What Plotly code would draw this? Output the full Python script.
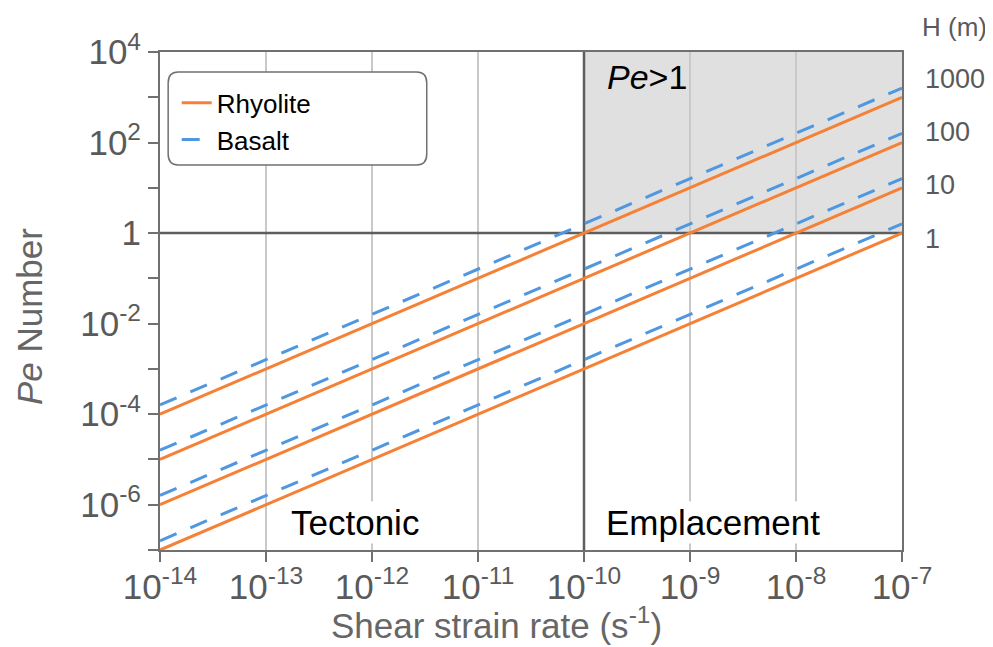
import plotly.graph_objects as go

# ---- data ----
strain_rate = [1e-14, 1e-7]                     # s^-1, ends of each line
H_values = [1000, 100, 10, 1]                    # m
rhyolite_pe = [[1e-4, 1e3], [1e-5, 1e2], [1e-6, 1e1], [1e-7, 1e0]]
basalt_pe = [[1.6e-4, 1.6e3], [1.6e-5, 1.6e2], [1.6e-6, 1.6e1], [1.6e-7, 1.6e0]]

x_tickvals = [1e-14, 1e-13, 1e-12, 1e-11, 1e-10, 1e-9, 1e-8, 1e-7]
x_ticktext = ["10<sup>-14</sup>", "10<sup>-13</sup>", "10<sup>-12</sup>", "10<sup>-11</sup>",
              "10<sup>-10</sup>", "10<sup>-9</sup>", "10<sup>-8</sup>", "10<sup>-7</sup>"]
y_tickvals = [1e-6, 1e-4, 1e-2, 1e0, 1e2, 1e4]
y_ticktext = ["10<sup>-6</sup>", "10<sup>-4</sup>", "10<sup>-2</sup>", "1",
              "10<sup>2</sup>", "10<sup>4</sup>"]
y_minor_tickvals = [1e-7, 1e-5, 1e-3, 1e-1, 1e1, 1e3]
h_tickvals = [1, 10, 100, 1000]
h_ticktext = ["1", "10", "100", "1000"]

pe_threshold = 1.0
regime_boundary = 1e-10
pe_top = 1e4

ORANGE = "#f58137"
BLUE = "#4f97e0"
AXIS = "#707070"
DARK = "#5e5e5e"
GRID = "#c9c9c9"
TICKFONT = "#5a5a5a"
TITLEFONT = "#666666"
FONT = "Liberation Sans, Arial, sans-serif"

fig = go.Figure()

# dark reference lines Pe = 1 and strain rate = 1e-10 (drawn first, under the data)
fig.add_trace(go.Scatter(x=strain_rate, y=[pe_threshold, pe_threshold], mode="lines",
                         line=dict(color=DARK, width=2.5), showlegend=False, hoverinfo="skip"))
fig.add_trace(go.Scatter(x=[regime_boundary, regime_boundary], y=[1e-7, pe_top], mode="lines",
                         line=dict(color=DARK, width=2.5), showlegend=False, hoverinfo="skip"))

for i, h in enumerate(H_values):
    fig.add_trace(go.Scatter(
        x=strain_rate, y=rhyolite_pe[i], mode="lines",
        line=dict(color=ORANGE, width=3),
        name="Rhyolite", legendgroup="rhy", showlegend=(i == 0),
    ))
for i, h in enumerate(H_values):
    fig.add_trace(go.Scatter(
        x=strain_rate, y=basalt_pe[i], mode="lines",
        line=dict(color=BLUE, width=3, dash="18px,15px"),
        name="Basalt", legendgroup="bas", showlegend=(i == 0),
    ))

# empty trace so that the right-hand H axis is drawn
fig.add_trace(go.Scatter(x=[], y=[], yaxis="y2", showlegend=False, hoverinfo="skip"))

# shaded Pe>1 emplacement region
fig.add_shape(type="rect", xref="x", yref="y",
              x0=regime_boundary, x1=strain_rate[1], y0=pe_threshold, y1=pe_top,
              fillcolor="#e0e0e0", line=dict(width=0), layer="below")

# rounded legend frame
fig.add_shape(type="path", xref="paper", yref="paper",
              path="M 0.0245,0.773 L 0.346,0.773 Q 0.3595,0.773 0.3595,0.795 L 0.3595,0.938 "
                   "Q 0.3595,0.96 0.346,0.96 L 0.0245,0.96 Q 0.011,0.96 0.011,0.938 "
                   "L 0.011,0.795 Q 0.011,0.773 0.0245,0.773 Z",
              fillcolor="white", line=dict(color=AXIS, width=1.5), layer="above")

fig.add_annotation(x=-9.8, y=3.45, xref="x", yref="y", text="<i>Pe</i>>1",
                   showarrow=False, xanchor="left", yanchor="middle",
                   font=dict(size=34, color="black", family=FONT))
fig.add_annotation(x=-12.16, y=-6.39, xref="x", yref="y", text="Tectonic",
                   showarrow=False, xanchor="center", yanchor="middle", bgcolor="white",
                   font=dict(size=35, color="black", family=FONT))
fig.add_annotation(x=-8.78, y=-6.39, xref="x", yref="y", text="Emplacement",
                   showarrow=False, xanchor="center", yanchor="middle", bgcolor="white",
                   font=dict(size=35, color="black", family=FONT))
fig.add_annotation(x=1.0714, y=1.05, xref="paper", yref="paper", text="H (m)",
                   showarrow=False, xanchor="center", yanchor="middle",
                   font=dict(size=26, color=TICKFONT, family=FONT))

# axis titles (centred on the figure as in the reference)
fig.add_annotation(x=0.4535, y=-0.1466, xref="paper", yref="paper",
                   text="Shear strain rate (s<sup>-1</sup>)",
                   showarrow=False, xanchor="center", yanchor="middle",
                   font=dict(size=35, color=TITLEFONT, family=FONT))
fig.add_annotation(x=-0.175, y=0.468, xref="paper", yref="paper",
                   text="<i>Pe</i> Number", textangle=-90,
                   showarrow=False, xanchor="center", yanchor="middle",
                   font=dict(size=35, color=TITLEFONT, family=FONT))

# the page adds an 8px body margin, so the figure is drawn 8px smaller/shifted
fig.update_layout(
    width=985, height=639,
    margin=dict(l=152, r=91, t=44, b=97, autoexpand=False),
    paper_bgcolor="white", plot_bgcolor="white",
    font=dict(family=FONT),
    showlegend=True,
    legend=dict(x=0.0225, y=0.945, xanchor="left", yanchor="top",
                bgcolor="rgba(0,0,0,0)", borderwidth=0,
                font=dict(size=26, color="black", family=FONT),
                tracegroupgap=0),
    xaxis=dict(type="log", range=[-14, -7], tickvals=x_tickvals, ticktext=x_ticktext,
               ticks="outside", ticklen=10, tickwidth=2, tickcolor=AXIS,
               showline=True, linecolor=AXIS, linewidth=2, mirror=True,
               showgrid=True, gridcolor=GRID, gridwidth=1.5, zeroline=False,
               automargin=False, ticklabelstandoff=-5,
               tickfont=dict(size=35, color=TICKFONT, family=FONT)),
    yaxis=dict(type="log", range=[-7, 4], tickvals=y_tickvals, ticktext=y_ticktext,
               ticks="outside", ticklen=10, tickwidth=2, tickcolor=AXIS,
               minor=dict(tickvals=y_minor_tickvals, ticks="outside", ticklen=10,
                          tickwidth=2, tickcolor=AXIS, showgrid=False),
               showline=True, linecolor=AXIS, linewidth=2, mirror=True,
               showgrid=False, zeroline=False, automargin=False,
               tickfont=dict(size=35, color=TICKFONT, family=FONT)),
    yaxis2=dict(type="log", range=[-5.85, 3.49], overlaying="y", side="right",
                tickvals=h_tickvals, ticktext=h_ticktext, showgrid=False, zeroline=False,
                showline=False, ticks="", ticklabelstandoff=22, automargin=False,
                tickfont=dict(size=27, color=TICKFONT, family=FONT)),
)

fig.write_html("out.html")
